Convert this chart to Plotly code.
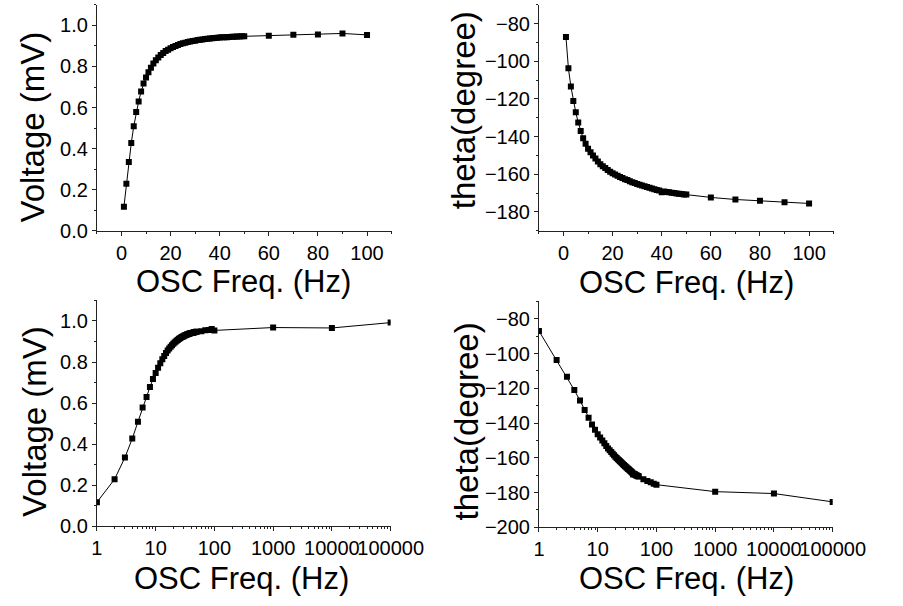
import plotly.graph_objects as go

# Oscillator frequency sweep (Hz): 1..50 Hz in 1 Hz steps, then 10 Hz steps to 100 Hz
freq_lin = list(range(1, 51)) + [60, 70, 80, 90, 100]
# Extended sweep adds three decades above 100 Hz
freq_log = freq_lin + [1000, 10000, 100000]

# Measured output amplitude (mV)
voltage_lin = [
    0.117, 0.229, 0.335, 0.427, 0.509, 0.578, 0.630, 0.678, 0.717, 0.747,
    0.772, 0.794, 0.814, 0.830, 0.844, 0.856, 0.866, 0.875, 0.882, 0.889,
    0.895, 0.900, 0.905, 0.909, 0.913, 0.916, 0.919, 0.922, 0.924, 0.926,
    0.929, 0.930, 0.932, 0.934, 0.935, 0.936, 0.938, 0.939, 0.940, 0.941,
    0.942, 0.942, 0.943, 0.944, 0.945, 0.945, 0.946, 0.946, 0.947, 0.947,
    0.950, 0.955, 0.956, 0.961, 0.954,
]
voltage_high = [0.968, 0.966, 0.992]
voltage_log = voltage_lin + voltage_high

# Measured phase (degrees)
theta_lin = [
    -87.0, -103.7, -113.3, -121.0, -127.1, -132.5, -137.0, -140.9, -143.8, -146.4,
    -148.3, -150.0, -151.6, -153.2, -154.7, -155.7, -156.7, -157.7, -158.6, -159.4,
    -160.1, -160.8, -161.4, -162.0, -162.6, -163.1, -163.7, -164.2, -164.7, -165.2,
    -165.6, -166.0, -166.4, -166.8, -167.2, -167.6, -167.9, -168.3, -168.6, -169.6,
    -169.2, -169.4, -169.6, -169.8, -170.0, -170.2, -170.4, -170.5, -170.7, -170.8,
    -172.3, -173.4, -174.1, -174.9, -175.5,
]
theta_high = [-179.5, -180.6, -185.4]
theta_log = theta_lin + theta_high

log_tick_vals = [1, 10, 100, 1000, 10000, 100000]
log_tick_text = ["1", "10", "100", "1000", "10000", "100000"]

W, H = 903, 606
FONT = "Liberation Sans, Arial, sans-serif"
INK = "#222222"

fig = go.Figure()

marker = dict(symbol="square", size=6, color="black")
line = dict(color="black", width=1)

fig.add_trace(go.Scatter(x=freq_lin, y=voltage_lin, mode="lines+markers",
                         marker=marker, line=line, xaxis="x", yaxis="y"))
fig.add_trace(go.Scatter(x=freq_lin, y=theta_lin, mode="lines+markers",
                         marker=marker, line=line, xaxis="x2", yaxis="y2"))
fig.add_trace(go.Scatter(x=freq_log, y=voltage_log, mode="lines+markers",
                         marker=marker, line=line, xaxis="x3", yaxis="y3"))
fig.add_trace(go.Scatter(x=freq_log, y=theta_log, mode="lines+markers",
                         marker=marker, line=line, xaxis="x4", yaxis="y4"))


def px_x(v):
    return v / W


def px_y(v):
    return 1 - v / H


common = dict(showline=True, linecolor=INK, linewidth=1, ticks="outside",
              ticklen=4, tickwidth=1, tickcolor=INK, showgrid=False,
              zeroline=False, tickfont=dict(family=FONT, size=20, color="black"),
              tickangle=0)

minor_lin_x = dict(ticks="outside", ticklen=2, tickwidth=1, tickcolor=INK,
                   dtick=10, showgrid=False)
log_minor_vals = [d * 10 ** k for k in range(5) for d in range(2, 10)]
minor_log_x = dict(ticks="outside", ticklen=2, tickwidth=1, tickcolor=INK,
                   tickvals=log_minor_vals, showgrid=False)

# Plot-area boxes in pixels: (left, right, top, bottom)
boxes = {
    1: (95, 403, 5, 235),
    2: (557, 865, 5, 235),
    3: (95, 402, 306, 536),
    4: (557, 864, 307, 537),
}

layout = dict(
    width=W, height=H, autosize=False,
    margin=dict(l=0, r=0, t=0, b=0),
    paper_bgcolor="white", plot_bgcolor="white",
    showlegend=False,
    font=dict(family=FONT, color="black"),
)

for i, (l, r, t, b) in boxes.items():
    xs = "xaxis" if i == 1 else f"xaxis{i}"
    ys = "yaxis" if i == 1 else f"yaxis{i}"
    anchor_x = "x" if i == 1 else f"x{i}"
    anchor_y = "y" if i == 1 else f"y{i}"
    xa = dict(common, domain=[px_x(l), px_x(r)], anchor=anchor_y)
    ya = dict(common, domain=[px_y(b), px_y(t)], anchor=anchor_x)
    if i in (1, 2):
        xa.update(range=[-10, 110], tick0=0, dtick=20, minor=minor_lin_x)
    else:
        xa.update(type="log", range=[0, 5], tickmode="array",
                  tickvals=log_tick_vals, ticktext=log_tick_text,
                  minor=minor_log_x)
    if i in (1, 3):
        ya.update(range=[0, 1.1], tick0=0, dtick=0.2, tickformat=".1f",
                  minor=dict(ticks="outside", ticklen=2, tickwidth=1,
                             tickcolor=INK, dtick=0.1, showgrid=False))
    elif i == 2:
        ya.update(range=[-190, -70], tick0=-200, dtick=20,
                  minor=dict(ticks="outside", ticklen=2, tickwidth=1,
                             tickcolor=INK, dtick=10, showgrid=False))
    else:
        ya.update(range=[-200, -70], tick0=-200, dtick=20,
                  minor=dict(ticks="outside", ticklen=2, tickwidth=1,
                             tickcolor=INK, dtick=10, showgrid=False))
    layout[xs] = xa
    layout[ys] = ya

fig.update_layout(**layout)

# Axis titles: (text, centre x px, centre y px, angle, size)
titles = [
    ("OSC Freq. (Hz)", 248, 287, 0, 31),
    ("OSC Freq. (Hz)", 711, 288, 0, 31),
    ("OSC Freq. (Hz)", 246, 589, 0, 31),
    ("OSC Freq. (Hz)", 711, 589, 0, 31),
    ("Voltage (mV)", 28, 129, -90, 33),
    ("theta(degree)", 479, 112, -90, 33),
    ("Voltage (mV)", 30, 429, -90, 33),
    ("theta(degree)", 481, 429, -90, 33),
]
for text, cx, cy, ang, size in titles:
    fig.add_annotation(text=text, x=px_x(cx), y=px_y(cy), xref="paper",
                       yref="paper", xanchor="center", yanchor="middle",
                       showarrow=False, textangle=ang, borderpad=0,
                       font=dict(family=FONT, size=size, color="black"))

fig.write_html("out.html")
